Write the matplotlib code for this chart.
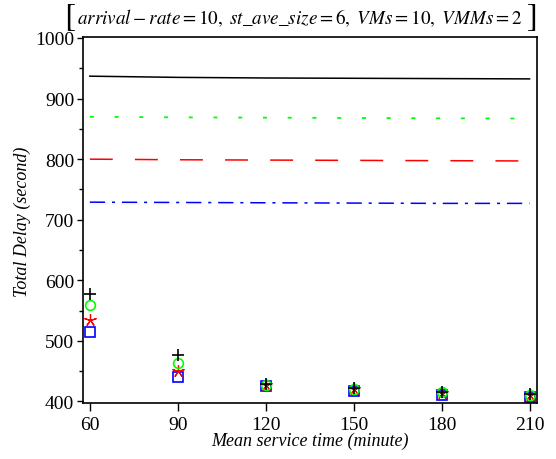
import matplotlib
matplotlib.use("Agg")
import matplotlib.pyplot as plt
from matplotlib.ticker import MultipleLocator

plt.rcParams['font.family'] = ['Liberation Serif', 'DejaVu Serif']
plt.rcParams['mathtext.fontset'] = 'stix'

x = [60, 90, 120, 150, 180, 210]

# model curves
line_black = [937, 935, 934, 933.5, 933, 932.5]
line_green = [870, 869, 868.5, 868, 867.5, 867]
line_red = [800, 799, 798.5, 798, 797.5, 797]
line_blue = [729, 728.5, 728, 727.5, 727, 727]

# simulation points
pts_plus = [578, 476, 429, 422, 416, 412]
pts_circle = [560, 463, 428, 421, 415, 411]
pts_star = [535, 450, 427, 420, 414, 410]
pts_square = [515, 440, 426, 418, 411, 408]

xticks = [60, 90, 120, 150, 180, 210]
yticks = [400, 500, 600, 700, 800, 900, 1000]

fig = plt.figure(figsize=(5.56, 4.60), dpi=100)
ax = fig.add_axes([0.1484, 0.1207, 0.8183, 0.7961])

lw = 1.1
ax.plot(x, line_black, color='black', lw=lw, ls='-')
ax.plot(x, line_green, color='#00ff00', lw=1.3, ls=(0, (2.2, 11.5)))
ax.plot(x, line_red, color='#ff0000', lw=lw, ls=(0, (15, 14.5)))
ax.plot(x, line_blue, color='#0000ff', lw=lw, ls=(0, (10, 4.5, 2, 4.5)))

ms = 7
mew = 1.2
ax.plot(x, pts_square, ls='none', marker='s', ms=ms, mfc='none', mec='#0000ff', mew=mew)
ax.plot(x, pts_star, ls='none', marker=(5, 2, 0), ms=ms + 2, mec='#ff0000', color='#ff0000', mew=0.9)
ax.plot(x, pts_circle, ls='none', marker='o', ms=ms, mfc='none', mec='#00ff00', mew=mew)
ax.plot(x, pts_plus, ls='none', marker='+', ms=ms + 2, mec='black', mew=mew)

ax.set_xlim(57.5, 212.7)
ax.set_ylim(396.7, 1001.2)
ax.set_xticks(xticks)
ax.set_yticks(yticks)
ax.yaxis.set_minor_locator(MultipleLocator(50))
ax.tick_params(axis='x', which='major', direction='out', length=6, width=1, labelsize=14, pad=3)
ax.tick_params(axis='y', which='major', direction='out', length=4, width=1, labelsize=14, pad=2)
ax.tick_params(axis='y', which='minor', direction='out', length=3, width=1)
for s in ax.spines.values():
    s.set_linewidth(1.2)

ax.set_xlabel('Mean service time (minute)', fontsize=13, style='italic', labelpad=-1)
ax.set_ylabel('Total Delay (second)', fontsize=13, style='italic', labelpad=3)

fig.text(0.540, 0.961,
         r'$arrival - rate = 10,\ st\_ave\_size = 6,\ VMs = 10,\ VMMs = 2$',
         ha='center', va='center', fontsize=13.8)
fig.text(70 / 556, 0.961, r'$[$', ha='center', va='center', fontsize=24)
fig.text(531 / 556, 0.961, r'$]$', ha='center', va='center', fontsize=24)

fig.savefig('out.png', dpi=100)
